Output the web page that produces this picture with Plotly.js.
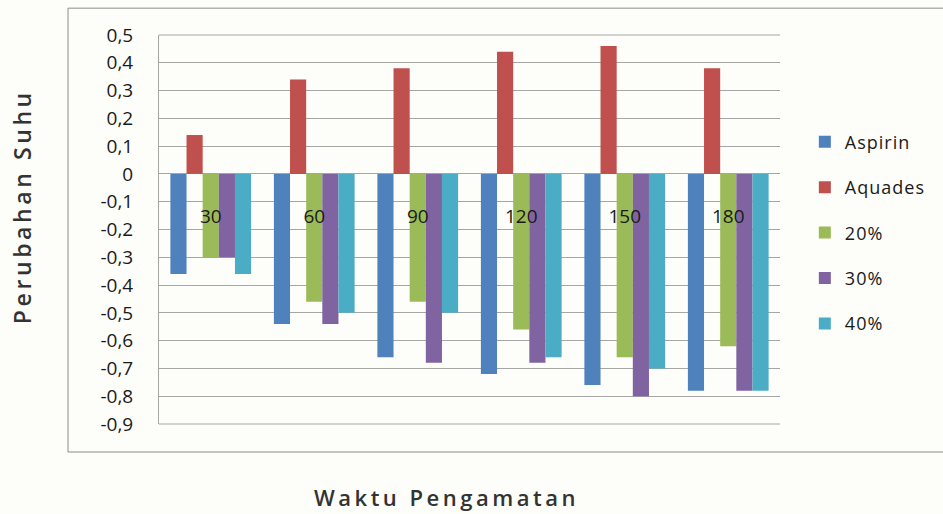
<!DOCTYPE html>
<html>
<head>
<meta charset="utf-8">
<script src="https://cdn.plot.ly/plotly-3.0.1.min.js"></script>
<style>
html,body{margin:0;padding:0;background:#fdfdf9;}
#chart{width:943px;height:514px;}
g.annotation[data-index="0"] text{letter-spacing:3.6px;}
g.annotation[data-index="1"] text{letter-spacing:3.5px;}
.legendtext{letter-spacing:1px;}
</style>
</head>
<body>
<div id="chart"></div>
<script>
const categories = ["30", "60", "90", "120", "150", "180"];
const seriesNames = ["Aspirin", "Aquades", "20%", "30%", "40%"];
const aspirin = [-0.36, -0.54, -0.66, -0.72, -0.76, -0.78];
const aquades = [0.14, 0.34, 0.38, 0.44, 0.46, 0.38];
const pct20 = [-0.30, -0.46, -0.46, -0.56, -0.66, -0.62];
const pct30 = [-0.30, -0.54, -0.68, -0.68, -0.80, -0.78];
const pct40 = [-0.36, -0.50, -0.50, -0.66, -0.70, -0.78];
const yTickVals = [0.5, 0.4, 0.3, 0.2, 0.1, 0, -0.1, -0.2, -0.3, -0.4, -0.5, -0.6, -0.7, -0.8, -0.9];
const yTickText = ["0,5", "0,4", "0,3", "0,2", "0,1", "0", "-0,1", "-0,2", "-0,3", "-0,4", "-0,5", "-0,6", "-0,7", "-0,8", "-0,9"];
const xTitle = "Waktu Pengamatan";
const yTitle = "Perubahan Suhu";
const colors = ["#4F81BD", "#C0504D", "#9BBB59", "#8064A2", "#4BACC6"];
const allSeries = [aspirin, aquades, pct20, pct30, pct40];

const yMin = -0.9, yMax = 0.5;
const traces = allSeries.map((vals, i) => ({
  type: "bar",
  name: seriesNames[i],
  x: categories,
  y: vals,
  marker: {color: colors[i]},
  legendgroup: "g" + i,
  hoverinfo: "x+y+name"
}));

const font = "Open Sans, Noto Sans, DejaVu Sans, sans-serif";
const grid = "#a6a6a6";
const layout = {
  width: 943, height: 514,
  margin: {l: 159, r: 163, t: 35, b: 90},
  paper_bgcolor: "#fdfdf9",
  plot_bgcolor: "rgba(0,0,0,0)",
  barmode: "group",
  bargap: 0.22,
  bargroupgap: 0,
  showlegend: true,
  legend: {
    x: 1.04, xanchor: "left", y: 0.492, yanchor: "middle",
    font: {family: font, size: 18, color: "#1a1a1a"},
    traceorder: "grouped", tracegroupgap: 19,
    bgcolor: "rgba(0,0,0,0)"
  },
  xaxis: {
    type: "category",
    anchor: "free",
    position: (0 - yMin) / (yMax - yMin),
    showline: false, showgrid: false, zeroline: false, ticks: "",
    ticklabelstandoff: 29,
    tickfont: {family: font, size: 19, color: "#1a1a1a"}
  },
  yaxis: {
    range: [yMin, yMax],
    tickvals: yTickVals, ticktext: yTickText,
    showgrid: true, gridcolor: grid, gridwidth: 1,
    zeroline: true, zerolinecolor: grid, zerolinewidth: 1,
    showline: true, linecolor: grid, linewidth: 1, mirror: false,
    ticks: "",
    ticklabelstandoff: 21,
    tickfont: {family: font, size: 19, color: "#1a1a1a"}
  },
  shapes: [
    {type: "rect", xref: "paper", yref: "paper", x0: -0.1465, x1: 1.3, y0: -0.072, y1: 1.069,
     line: {color: "#8c8c8c", width: 1}, fillcolor: "rgba(0,0,0,0)", layer: "below"},
    {type: "line", xref: "paper", yref: "paper", x0: 0, x1: 1, y0: 1, y1: 1,
     line: {color: grid, width: 1}},
    {type: "line", xref: "paper", yref: "paper", x0: 0, x1: 1, y0: 0, y1: 0,
     line: {color: grid, width: 1}}
  ],
  annotations: [
    {text: yTitle, xref: "paper", yref: "paper", x: (22 - 159) / 621, y: (424 - 207) / 389,
     xanchor: "center", yanchor: "middle", textangle: -90,
     showarrow: false, font: {family: font, size: 23, weight: 600, color: "#333"}},
    {text: xTitle, xref: "paper", yref: "paper", x: (446 - 159) / 621, y: (424 - 497) / 389,
     xanchor: "center", yanchor: "middle",
     showarrow: false, font: {family: font, size: 22, weight: 600, color: "#333"}}
  ]
};
Plotly.newPlot("chart", traces, layout, {displayModeBar: false, staticPlot: true});
</script>
</body>
</html>
